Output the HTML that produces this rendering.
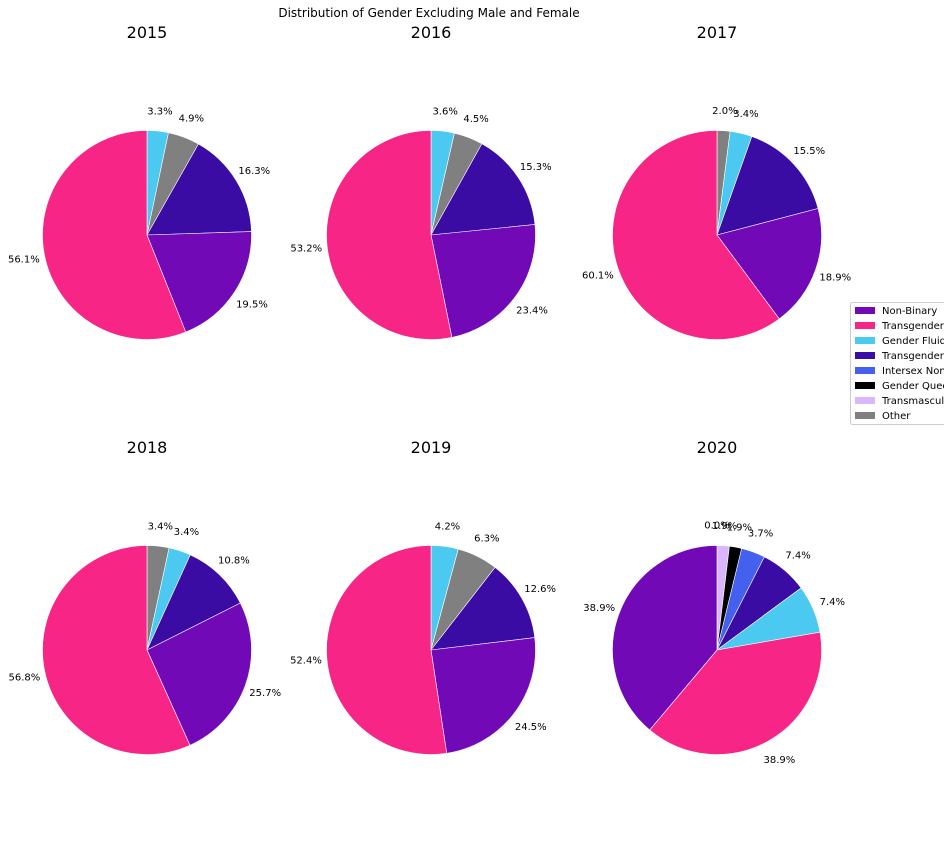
<!DOCTYPE html>
<html><head><meta charset="utf-8"><style>
body{margin:0;background:#fff;font-family:"Liberation Sans","DejaVu Sans",sans-serif;}
svg text{font-family:"DejaVu Sans","Liberation Sans",sans-serif;}
</style></head><body>
<svg id="chart" width="944" height="850" viewBox="0 0 944 850" xmlns="http://www.w3.org/2000/svg">
<text x="429" y="17" font-size="12" text-anchor="middle">Distribution of Gender Excluding Male and Female</text>
<g id="pies"></g>
<g id="legend"></g>
</svg>
<script>
const years = ["2015","2016","2017","2018","2019","2020"];
const categoryNames = ["Non-Binary","Transgender Female","Gender Fluid","Transgender Male","Intersex Non-Binary","Gender Queer","Transmasculine","Other"];
const categoryColors = ["#7209b7","#f72585","#4cc9f0","#3a0ca3","#4361ee","#000000","#dab6fc","#808080"];
// wedge order (category index) and values per year, clockwise from top
const order2015 = [2,7,3,0,1]; const values2015 = [3.3,4.9,16.3,19.5,56.1];
const order2016 = [2,7,3,0,1]; const values2016 = [3.6,4.5,15.3,23.4,53.2];
const order2017 = [7,2,3,0,1]; const values2017 = [2.0,3.4,15.5,18.9,60.1];
const order2018 = [7,2,3,0,1]; const values2018 = [3.4,3.4,10.8,25.7,56.8];
const order2019 = [2,7,3,0,1]; const values2019 = [4.2,6.3,12.6,24.5,52.4];
const order2020 = [7,6,5,4,3,2,1,0]; const values2020 = [0.0,1.9,1.9,3.7,7.4,7.4,38.9,38.9];
const orders = [order2015,order2016,order2017,order2018,order2019,order2020];
const valuesAll = [values2015,values2016,values2017,values2018,values2019,values2020];

const NS="http://www.w3.org/2000/svg";
const pies=document.getElementById('pies');
const cx=[147,431,717], cy=[235,650], R=104.5;
function mk(t){return document.createElementNS(NS,t);}
years.forEach((yr,i)=>{
  const x0=cx[i%3], y0=cy[Math.floor(i/3)];
  const g=mk('g');
  
  
  pies.appendChild(g);
  const t=mk('text');
  
  
  t.setAttribute('x',x0);t.setAttribute('y',y0-197);t.setAttribute('font-size','16');t.setAttribute('text-anchor','middle');
  t.textContent=yr;g.appendChild(t);
  const vals=valuesAll[i], ord=orders[i];
  const tot=vals.reduce((a,b)=>a+b,0);
  let a=90;
  vals.forEach((v,j)=>{
    const sweep=v/tot*360;
    const a1=a, a2=a-sweep;
    const r1=a1*Math.PI/180, r2=a2*Math.PI/180;
    if(sweep>0){
      const p=mk('path');
      const xA=x0+R*Math.cos(r1), yA=y0-R*Math.sin(r1), xB=x0+R*Math.cos(r2), yB=y0-R*Math.sin(r2);
      p.setAttribute('d',`M${x0},${y0}L${xA},${yA}A${R},${R} 0 ${sweep>180?1:0} 1 ${xB},${yB}Z`);
      p.setAttribute('fill',categoryColors[ord[j]]);
      p.setAttribute('stroke','#fff');p.setAttribute('stroke-width','0.6');
      
      
      g.appendChild(p);
    }
    const m=((a1+a2)/2)*Math.PI/180;
    const lx=x0+1.2*R*Math.cos(m), ly=y0-1.2*R*Math.sin(m);
    const l=mk('text');
    
    
    l.setAttribute('x',lx);l.setAttribute('y',ly+4);l.setAttribute('font-size','10');l.setAttribute('text-anchor','middle');
    l.textContent=v.toFixed(1)+'%';g.appendChild(l);
    a=a2;
  });
});
const lg=document.getElementById('legend');
const box=mk('rect');


box.setAttribute('x',850.5);box.setAttribute('y',302.5);box.setAttribute('width',100);box.setAttribute('height',122);box.setAttribute('rx',2);
box.setAttribute('fill','#fff');box.setAttribute('stroke','#ccc');lg.appendChild(box);
categoryNames.forEach((n,k)=>{
  const y=310+k*15;
  const r=mk('rect');
  
  
  r.setAttribute('x',855);r.setAttribute('y',y-3);r.setAttribute('width',20);r.setAttribute('height',7);r.setAttribute('fill',categoryColors[k]);
  lg.appendChild(r);
  const t=mk('text');
  
  
  t.setAttribute('x',882);t.setAttribute('y',y+4);t.setAttribute('font-size','10');
  t.textContent=n;lg.appendChild(t);
});
</script>
</body></html>
